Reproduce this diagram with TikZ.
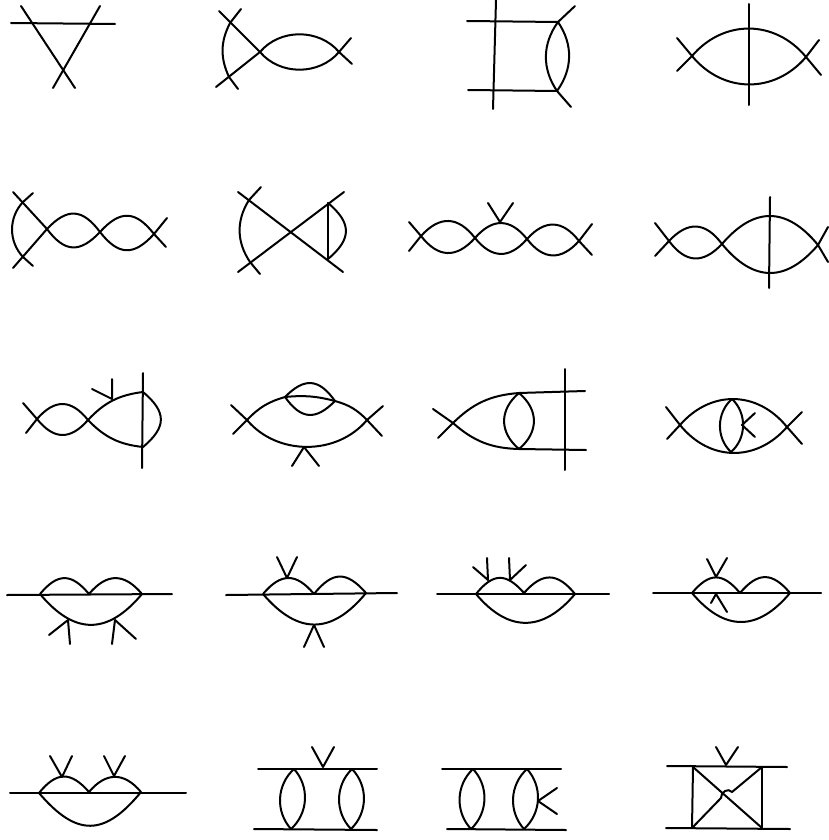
\documentclass[tikz,border=0pt]{standalone}
\usepackage{tikz}

\begin{document}
\begin{tikzpicture}[
    x=1pt, y=-1pt,
    line width=2pt, line cap=round, line join=round,
    wave/.style={bend left=50, looseness=#1},
    lens/.style={bend left=#1},
    arch/.style={bend right=#1},
]
\useasboundingbox (0,0) rectangle (828,840);

% row 1
\path (11,23) coordinate (a1) (115,24) coordinate (a2) (21,6) coordinate (a3) (75,88) coordinate (a4)
      (100,6) coordinate (a5) (53,88) coordinate (a6);
\draw (a1) -- (a2);
\draw (a3) -- (a4);
\draw (a5) -- (a6);

\path (230,23) coordinate (b1) (229,77) coordinate (b2) (260,52) coordinate (b3) (339,52) coordinate (b4)
      (219,11) coordinate (b5) (241,9) coordinate (b6) (216,87) coordinate (b7) (238,89) coordinate (b8)
      (351,38) coordinate (b9) (352,64) coordinate (b10);
\draw (b5) -- (b3) -- (b7);
\draw (b6) -- (b1) to[arch=26] (b2) -- (b8);
\draw (b3) to[wave=1] (b4) to[wave=1] (b3);
\draw (b9) -- (b4) -- (b10);

\path (467,21) coordinate (c1) (558,22) coordinate (c2) (468,90) coordinate (c3) (557,91) coordinate (c4)
      (496,0) coordinate (c5) (493,109) coordinate (c6) (575,6) coordinate (c7) (571,107) coordinate (c8);
\draw (c1) -- (c2) -- (c7);
\draw (c3) -- (c4) -- (c8);
\draw (c5) -- (c6);
\draw (c2) to[lens=35] (c4) to[lens=35] (c2);

\path (692,56) coordinate (d1) (806,57) coordinate (d2) (749,4) coordinate (d3) (749,105) coordinate (d4)
      (677,38) coordinate (d5) (677,71) coordinate (d6) (819,40) coordinate (d7) (821,75) coordinate (d8);
\draw (d1) to[wave=1.09] (d2) to[wave=1.09] (d1);
\draw (d3) -- (d4);
\draw (d5) -- (d1) -- (d6);
\draw (d7) -- (d2) -- (d8);

% row 2
\path (23,202) coordinate (e1) (23,257) coordinate (e2) (47,229) coordinate (e3) (100,232) coordinate (e4)
      (154,234) coordinate (e5) (13,192) coordinate (e6) (33,193) coordinate (e7) (13,268) coordinate (e8)
      (33,266) coordinate (e9) (167,218) coordinate (e10) (166,247) coordinate (e11);
\draw (e6) -- (e3) -- (e8);
\draw (e7) -- (e1) to[arch=43] (e2) -- (e9);
\draw (e3) to[wave=1.42] (e4) to[wave=1.42] (e3);
\draw (e4) to[wave=1.42] (e5) to[wave=1.42] (e4);
\draw (e10) -- (e5) -- (e11);

\path (249,200) coordinate (f1) (250,262) coordinate (f2) (328,203) coordinate (f3) (328,259) coordinate (f4)
      (238,192) coordinate (f5) (261,187) coordinate (f6) (238,272) coordinate (f7) (260,274) coordinate (f8)
      (344,192) coordinate (f9) (343,272) coordinate (f10);
\draw (f5) -- (f10);
\draw (f7) -- (f9);
\draw (f6) -- (f1) to[arch=33] (f2) -- (f8);
\draw (f3) -- (f4);
\draw (f3) to[wave=1.43] (f4);

\path (421,236) coordinate (g1) (475,238) coordinate (g2) (527,239) coordinate (g3) (579,241) coordinate (g4)
      (409,222) coordinate (g5) (409,251) coordinate (g6) (592,224) coordinate (g7) (592,255) coordinate (g8)
      (500,222) coordinate (g9) (488,203) coordinate (g10) (513,203) coordinate (g11);
\draw (g1) to[wave=1.32] (g2) to[wave=1.32] (g1);
\draw (g2) to[wave=1.32] (g3) to[wave=1.32] (g2);
\draw (g3) to[wave=1.32] (g4) to[wave=1.32] (g3);
\draw (g5) -- (g1) -- (g6);
\draw (g7) -- (g4) -- (g8);
\draw (g10) -- (g9) -- (g11);

\path (669,241) coordinate (h1) (722,244) coordinate (h2) (818,245) coordinate (h3) (655,223) coordinate (h4)
      (655,256) coordinate (h5) (828,227) coordinate (h6) (828,262) coordinate (h7) (770,197) coordinate (h8)
      (769,288) coordinate (h9);
\draw (h1) to[wave=1.34] (h2) to[wave=1.34] (h1);
\draw (h2) to[wave=1.32] (h3) to[wave=1.32] (h2);
\draw (h4) -- (h1) -- (h5);
\draw (h6) -- (h3) -- (h7);
\draw (h8) -- (h9);

% row 3
\path (37,419) coordinate (i1) (88,420) coordinate (i2) (143,392) coordinate (i3) (143,447) coordinate (i4)
      (23,403) coordinate (i5) (26,433) coordinate (i6) (143,373) coordinate (i7) (142,468) coordinate (i8)
      (112,399) coordinate (i9) (112,379) coordinate (i10) (92,389) coordinate (i11);
\draw (i1) to[wave=1.35] (i2) to[wave=1.35] (i1);
\draw (i5) -- (i1) -- (i6);
\draw (i2) to[lens=20] (i3) to[wave=1.45] (i4) to[lens=20] (i2);
\draw (i7) -- (i8);
\draw (i10) -- (i9) -- (i11);

\path (247,420) coordinate (j1) (367,420) coordinate (j2) (285,397) coordinate (j3) (335,401) coordinate (j4)
      (231,405) coordinate (j5) (233,434) coordinate (j6) (383,406) coordinate (j7) (382,436) coordinate (j8)
      (304,447) coordinate (j9) (292,466) coordinate (j10) (319,466) coordinate (j11);
\draw (j1) to[lens=15] (j3) to[wave=1.42] (j4) to[lens=15] (j2) to[wave=1] (j1);
\draw (j4) to[wave=1.42] (j3) to[lens=10] (j4);
\draw (j5) -- (j1) -- (j6);
\draw (j7) -- (j2) -- (j8);
\draw (j10) -- (j9) -- (j11);

\path (453,423) coordinate (k1) (519,393) coordinate (k2) (519,449) coordinate (k3) (585,391) coordinate (k4)
      (586,450) coordinate (k5) (433,409) coordinate (k6) (438,438) coordinate (k7) (565,369) coordinate (k8)
      (565,470) coordinate (k9);
\draw (k1) to[lens=20] (k2) -- (k4);
\draw (k1) to[arch=20] (k3) -- (k5);
\draw (k2) to[wave=1.19] (k3) to[wave=1.19] (k2);
\draw (k6) -- (k1) -- (k7);
\draw (k8) -- (k9);

\path (680,425) coordinate (l1) (787,427) coordinate (l2) (732,399) coordinate (l3) (731,452) coordinate (l4)
      (666,407) coordinate (l5) (667,439) coordinate (l6) (802,412) coordinate (l7) (802,444) coordinate (l8)
      (742,425) coordinate (l9) (755,413) coordinate (l10) (755,437) coordinate (l11);
\draw (l1) to[wave=1.12] (l2) to[wave=1.12] (l1);
\draw (l3) to[lens=48] (l4) to[lens=48] (l3);
\draw (l5) -- (l1) -- (l6);
\draw (l7) -- (l2) -- (l8);
\draw (l10) -- (l9) -- (l11);

% row 4
\path (7,595) coordinate (m1) (172,594) coordinate (m2) (40,594) coordinate (m3) (89,594) coordinate (m4)
      (142,594) coordinate (m5) (68,620) coordinate (m6) (49,635) coordinate (m7) (70,644) coordinate (m8)
      (115,620) coordinate (m9) (112,644) coordinate (m10) (136,639) coordinate (m11);
\draw (m1) -- (m2);
\draw (m3) to[wave=1.45] (m4) to[wave=1.34] (m5) to[wave=1.35] (m3);
\draw (m7) -- (m6) -- (m8);
\draw (m10) -- (m9) -- (m11);

\path (226,595) coordinate (n1) (397,593) coordinate (n2) (263,594) coordinate (n3) (314,594) coordinate (n4)
      (366,593) coordinate (n5) (287,578) coordinate (n6) (277,557) coordinate (n7) (297,557) coordinate (n8)
      (314,625) coordinate (n9) (304,647) coordinate (n10) (324,647) coordinate (n11);
\draw (n1) -- (n2);
\draw (n3) to[wave=1.4] (n4) to[wave=1.45] (n5) to[wave=1.34] (n3);
\draw (n7) -- (n6) -- (n8);
\draw (n10) -- (n9) -- (n11);

\path (437,594) coordinate (o1) (609,594) coordinate (o2) (476,594) coordinate (o3) (524,593) coordinate (o4)
      (575,594) coordinate (o5) (488,580) coordinate (o6) (487,558) coordinate (o7) (473,567) coordinate (o8)
      (510,580) coordinate (o9) (509,558) coordinate (o10) (526,565) coordinate (o11);
\draw (o1) -- (o2);
\draw (o3) to[wave=1.45] (o4) to[wave=1.4] (o5) to[wave=1.3] (o3);
\draw (o7) -- (o6) -- (o8);
\draw (o10) -- (o9) -- (o11);

\path (653,593) coordinate (p1) (821,593) coordinate (p2) (692,593) coordinate (p3) (740,593) coordinate (p4)
      (790,593) coordinate (p5) (716,577) coordinate (p6) (707,559) coordinate (p7) (727,558) coordinate (p8)
      (716,594) coordinate (p9) (711,603) coordinate (p10) (727,612) coordinate (p11);
\draw (p1) -- (p2);
\draw (p3) to[wave=1.45] (p4) to[wave=1.42] (p5) to[wave=1.32] (p3);
\draw (p7) -- (p6) -- (p8);
\draw (p10) -- (p9) -- (p11);

% row 5
\path (10,793) coordinate (q1) (186,793) coordinate (q2) (39,793) coordinate (q3) (89,792) coordinate (q4)
      (141,792) coordinate (q5) (62,777) coordinate (q6) (50,756) coordinate (q7) (72,756) coordinate (q8)
      (114,776) coordinate (q9) (104,756) coordinate (q10) (125,756) coordinate (q11);
\draw (q1) -- (q2);
\draw (q3) to[wave=1.42] (q4) to[wave=1.3] (q5) to[wave=1.45] (q3);
\draw (q7) -- (q6) -- (q8);
\draw (q10) -- (q9) -- (q11);

\path (258,769) coordinate (r1) (377,769) coordinate (r2) (254,829) coordinate (r3) (377,830) coordinate (r4)
      (294,769) coordinate (r5) (291,829) coordinate (r6) (352,769) coordinate (r7) (351,829) coordinate (r8)
      (323,767) coordinate (r9) (312,747) coordinate (r10) (334,747) coordinate (r11);
\draw (r1) -- (r2);
\draw (r3) -- (r4);
\draw (r5) to[lens=45] (r6) to[lens=45] (r5);
\draw (r7) to[lens=45] (r8) to[lens=45] (r7);
\draw (r10) -- (r9) -- (r11);

\path (442,769) coordinate (s1) (561,769) coordinate (s2) (447,829) coordinate (s3) (566,830) coordinate (s4)
      (473,769) coordinate (s5) (471,829) coordinate (s6) (527,769) coordinate (s7) (524,829) coordinate (s8)
      (538,801) coordinate (s9) (557,788) coordinate (s10) (557,814) coordinate (s11);
\draw (s1) -- (s2);
\draw (s3) -- (s4);
\draw (s5) to[lens=45] (s6) to[lens=45] (s5);
\draw (s7) to[lens=45] (s8) to[lens=45] (s7);
\draw (s10) -- (s9) -- (s11);

\path (667,766) coordinate (t1) (787,767) coordinate (t2) (666,828) coordinate (t3) (790,829) coordinate (t4)
      (693,767) coordinate (t5) (692,828) coordinate (t6) (762,767) coordinate (t7) (762,828) coordinate (t8)
      (726,765) coordinate (t9) (716,747) coordinate (t10) (738,747) coordinate (t11)
      (732,792) coordinate (t12) (725,791) coordinate (t13) (721,798) coordinate (t14);
\draw (t1) -- (t2);
\draw (t3) -- (t4);
\draw (t5) -- (t6);
\draw (t7) -- (t8);
\draw (t5) -- (t8);
\draw (t7) -- (t12) to[arch=40] (t13) to[arch=30] (t14) -- (t6);
\draw (t10) -- (t9) -- (t11);
\end{tikzpicture}
\end{document}
